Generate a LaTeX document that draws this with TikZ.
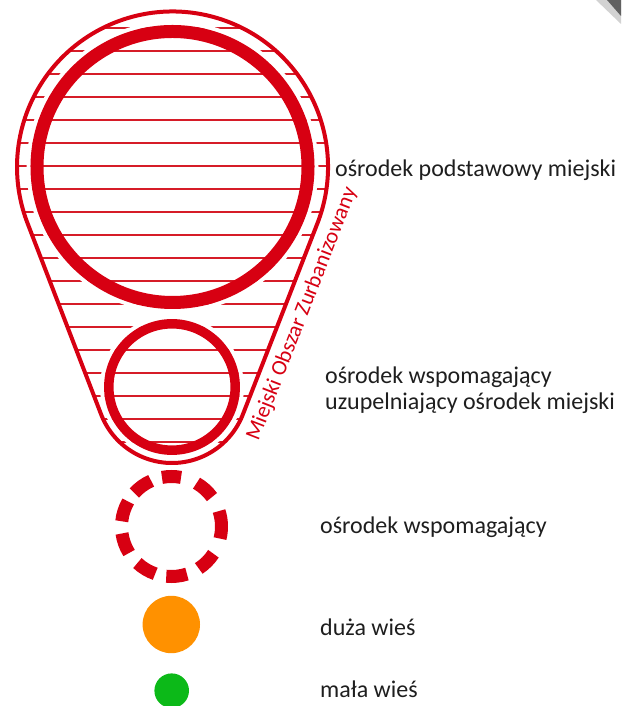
\documentclass[tikz,border=0pt]{standalone}
\usepackage{fontspec}
\setmainfont{Carlito}
\usetikzlibrary{calc}
\definecolor{ored}{RGB}{215,0,18}
\definecolor{ohatch}{RGB}{214,28,40}
\definecolor{oorange}{RGB}{255,145,0}
\definecolor{ogreen}{RGB}{12,185,24}
\definecolor{otext}{RGB}{30,30,30}
\tikzset{
  hatch/.style={ohatch, line width=1.8},
  halo/.style={white, line width=4},
  boundary/.style={ored, line width=4},
  label/.style={anchor=base west, inner sep=0, text=otext, font=\fontsize{24}{26}\selectfont},
  dashring/.style={ored, line width=13},
}
\begin{document}
\begin{tikzpicture}[x=1pt,y=1pt]
\useasboundingbox (0,0) rectangle (621,706);
% corner artefact
\fill[gray!35] (596,706) -- (621,706) -- (621,682) -- cycle;
\fill[gray!75!black] (607,706) -- (621,706) -- (621,690) -- cycle;
\def\ang{21.2}
\coordinate (C1) at (172.5,539);
\coordinate (C2) at (172,319);
\coordinate (T1r) at ($(C1)+(-\ang:155.5)$);
\coordinate (T1l) at ($(C1)+(180+\ang:155.5)$);
\coordinate (T2l) at ($(C2)+(180+\ang:76)$);
\coordinate (T2r) at ($(C2)+(-\ang:76)$);
% hatching
\begin{scope}
\clip (T1r) arc[start angle=-\ang, end angle=180+\ang, radius=155.5] -- (T2l) arc[start angle=180+\ang, end angle=360-\ang, radius=76] -- cycle;
\foreach \k in {0,...,19} \draw[hatch] (0,678.3-23*\k) -- (621,678.3-23*\k);
\end{scope}
% halos and rings
\draw[halo] (C1) circle[radius=144];
\draw[halo] (C2) circle[radius=70];
\draw[ored, line width=13] (C1) circle[radius=135.5];
\draw[ored, line width=9.5] (C2) circle[radius=63.2];
% boundary
\draw[boundary] (T1r) arc[start angle=-\ang, end angle=180+\ang, radius=155.5] -- (T2l) arc[start angle=180+\ang, end angle=360-\ang, radius=76] -- cycle;
\path (T2r) -- (T1r) node[pos=0.56, sloped, below, inner sep=9, text=ored, font=\fontsize{22}{24}\selectfont] (moz) {Miejski Obszar Zurbanizowany};
% dashed ring
\coordinate (C3) at (171.5,179.5);
\foreach \a/\h in {90/11,126/12,162/12,200/12,239/12,276/12,315/12,2/16,48/12}
  \draw[dashring] ($(C3)+(\a-\h:50)$) arc[start angle=\a-\h, end angle=\a+\h, radius=50];
% villages
\fill[oorange] (171.3,81.5) circle[radius=28.7];
\fill[ogreen] (171.7,15.3) circle[radius=17.3];
% labels
\node[label] (l1) at (335,529.5) {ośrodek podstawowy miejski};
\node[label] (l2a) at (325,322.7) {ośrodek wspomagający};
\node[label] (l2b) at (325,296.7) {uzupelniający ośrodek miejski};
\node[label] (l3) at (320,172) {ośrodek wspomagający};
\node[label] (l4) at (320,70) {duża wieś};
\node[label] (l5) at (320,9) {mała wieś};
\end{tikzpicture}
\end{document}
